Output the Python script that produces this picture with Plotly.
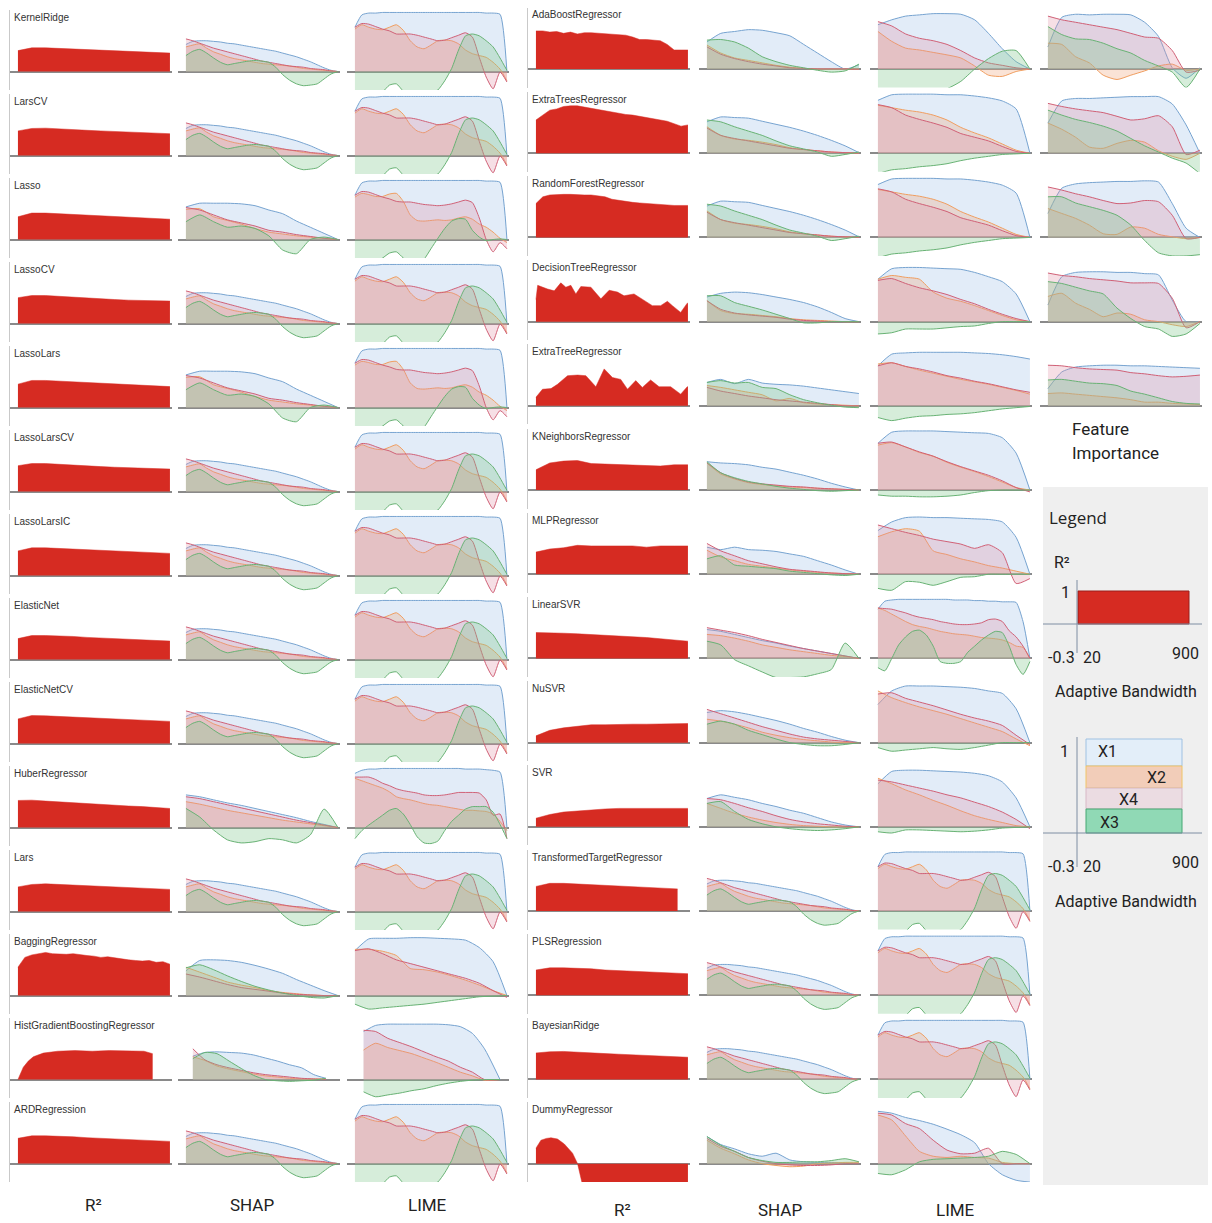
import plotly.graph_objects as go

W, H = 1212, 1223

# ---------------- bandwidth grids ----------------
BW12 = [20, 100, 180, 260, 340, 420, 500, 580, 660, 740, 820, 900]
BW23 = [20, 60, 100, 140, 180, 220, 260, 300, 340, 380, 420, 460, 500, 540, 580,
        620, 660, 700, 740, 780, 820, 860, 900]
HGB_R2_X = [20, 51, 80, 109, 167, 250, 350, 450, 550, 650, 750, 800]
HGB_SHAP_X = [60, 130, 200, 270, 340, 410, 480, 550, 620, 690, 760, 830]
HGB_LIME_X = [70, 140, 210, 280, 350, 420, 490, 560, 630, 700, 770, 860]
TTR_R2_X = [20, 100, 180, 260, 340, 420, 500, 580, 660, 740, 840]
DT_R2_X = [20, 30, 87, 126, 164, 193, 222, 251, 280, 338, 396, 444, 492, 530, 588,
           646, 694, 742, 781, 810, 858, 896, 900]
ET_R2_X = [20, 58, 107, 145, 203, 261, 309, 367, 415, 463, 511, 550, 598, 636, 684,
           733, 800, 858, 896, 900]
DUMMY_R2_X = [20, 49, 80, 107, 145, 184, 232, 261, 290, 400, 600, 900]

# ---------------- R2 series ----------------
R2_KERNELRIDGE = [0.34, 0.385, 0.385, 0.375, 0.365, 0.355, 0.345, 0.34, 0.33, 0.32, 0.31, 0.30]
R2_LARSCV = [0.40, 0.44, 0.445, 0.43, 0.42, 0.41, 0.40, 0.39, 0.38, 0.37, 0.36, 0.355]
R2_LASSO = [0.37, 0.43, 0.43, 0.42, 0.41, 0.40, 0.39, 0.38, 0.37, 0.36, 0.345, 0.33]
R2_LASSOCV = [0.42, 0.455, 0.455, 0.44, 0.43, 0.415, 0.40, 0.39, 0.38, 0.375, 0.37, 0.365]
R2_LASSOLARS = [0.38, 0.44, 0.44, 0.43, 0.42, 0.41, 0.40, 0.39, 0.375, 0.36, 0.35, 0.34]
R2_LASSOLARSCV = [0.42, 0.455, 0.455, 0.44, 0.43, 0.415, 0.405, 0.395, 0.385, 0.375, 0.37, 0.365]
R2_LASSOLARSIC = [0.40, 0.45, 0.45, 0.44, 0.42, 0.41, 0.40, 0.39, 0.385, 0.375, 0.37, 0.36]
R2_ELASTICNET = [0.34, 0.39, 0.39, 0.385, 0.375, 0.36, 0.35, 0.34, 0.33, 0.32, 0.31, 0.30]
R2_ELASTICNETCV = [0.40, 0.455, 0.45, 0.44, 0.43, 0.42, 0.40, 0.39, 0.38, 0.37, 0.365, 0.36]
R2_HUBER = [0.44, 0.445, 0.43, 0.415, 0.40, 0.39, 0.375, 0.365, 0.35, 0.34, 0.33, 0.31]
R2_LARS = [0.40, 0.44, 0.45, 0.44, 0.43, 0.42, 0.41, 0.40, 0.39, 0.38, 0.37, 0.36]
R2_BAGGING = [0.46, 0.62, 0.66, 0.68, 0.70, 0.68, 0.67, 0.67, 0.68, 0.66, 0.65, 0.64, 0.62,
              0.63, 0.61, 0.60, 0.58, 0.57, 0.56, 0.57, 0.54, 0.55, 0.51]
R2_HGB = [0.0, 0.2, 0.3, 0.37, 0.43, 0.46, 0.47, 0.46, 0.47, 0.47, 0.46, 0.42]
R2_ARD = [0.41, 0.45, 0.45, 0.445, 0.435, 0.42, 0.41, 0.40, 0.39, 0.38, 0.37, 0.36]

R2_ADABOOST = [0.62, 0.62, 0.60, 0.61, 0.58, 0.60, 0.57, 0.59, 0.59, 0.58, 0.58, 0.57, 0.56,
               0.55, 0.52, 0.48, 0.48, 0.47, 0.46, 0.40, 0.31, 0.31, 0.31]
R2_EXTRATREES = [0.54, 0.62, 0.70, 0.72, 0.76, 0.77, 0.77, 0.75, 0.73, 0.70, 0.68, 0.66, 0.65,
                 0.63, 0.62, 0.60, 0.58, 0.57, 0.54, 0.52, 0.48, 0.44, 0.46]
R2_RANDOMFOREST = [0.55, 0.66, 0.69, 0.70, 0.70, 0.70, 0.69, 0.69, 0.69, 0.68, 0.66, 0.62, 0.60,
                   0.58, 0.57, 0.56, 0.55, 0.54, 0.53, 0.53, 0.52, 0.52, 0.52]
R2_DECISIONTREE = [0.36, 0.59, 0.53, 0.50, 0.63, 0.56, 0.59, 0.45, 0.57, 0.56, 0.37, 0.51, 0.48,
                   0.42, 0.45, 0.34, 0.26, 0.26, 0.33, 0.26, 0.15, 0.30, 0.30]
R2_EXTRATREE = [0.14, 0.27, 0.28, 0.35, 0.49, 0.50, 0.49, 0.31, 0.60, 0.46, 0.43, 0.27, 0.41,
                0.30, 0.42, 0.31, 0.31, 0.19, 0.31, 0.31]
R2_KNEIGHBORS = [0.33, 0.44, 0.47, 0.48, 0.43, 0.42, 0.41, 0.40, 0.40, 0.39, 0.41, 0.41]
R2_MLP = [0.36, 0.41, 0.43, 0.47, 0.46, 0.46, 0.47, 0.46, 0.44, 0.46, 0.46, 0.46]
R2_LINEARSVR = [0.42, 0.42, 0.41, 0.40, 0.39, 0.38, 0.37, 0.35, 0.34, 0.32, 0.30, 0.28]
R2_NUSVR = [0.11, 0.20, 0.24, 0.27, 0.29, 0.29, 0.30, 0.30, 0.30, 0.30, 0.31, 0.31]
R2_SVR = [0.14, 0.20, 0.24, 0.26, 0.28, 0.29, 0.30, 0.30, 0.30, 0.30, 0.30, 0.30]
R2_TTR = [0.40, 0.45, 0.45, 0.44, 0.43, 0.42, 0.41, 0.40, 0.39, 0.38, 0.36]
R2_PLS = [0.41, 0.445, 0.445, 0.44, 0.43, 0.41, 0.40, 0.39, 0.38, 0.37, 0.36, 0.35]
R2_BAYESIANRIDGE = [0.43, 0.45, 0.455, 0.44, 0.43, 0.42, 0.41, 0.40, 0.39, 0.38, 0.37, 0.36]
R2_DUMMY = [0.25, 0.38, 0.41, 0.42, 0.40, 0.32, 0.17, 0.0, -0.35, -0.35, -0.35, -0.35]

# ---------------- SHAP / LIME / FI profiles (X1, X2, X4, X3) ----------------
SHAP_LIN_X1 = [0.44, 0.49, 0.5, 0.5, 0.49, 0.48, 0.46, 0.45, 0.43, 0.41, 0.39, 0.37, 0.35, 0.33,
               0.3, 0.27, 0.24, 0.2, 0.16, 0.11, 0.06, 0.02, 0.0]
SHAP_LIN_X2 = [0.4, 0.43, 0.45, 0.38, 0.32, 0.28, 0.24, 0.21, 0.19, 0.17, 0.15, 0.13, 0.12, 0.11,
               0.1, 0.09, 0.07, 0.05, 0.04, 0.03, 0.02, 0.01, 0.0]
SHAP_LIN_X4 = [0.53, 0.5, 0.46, 0.42, 0.38, 0.35, 0.32, 0.29, 0.26, 0.23, 0.2, 0.17, 0.15, 0.13,
               0.11, 0.09, 0.08, 0.07, 0.05, 0.04, 0.03, 0.01, 0.0]
SHAP_LIN_X3 = [0.26, 0.33, 0.36, 0.3, 0.22, 0.15, 0.11, 0.13, 0.15, 0.17, 0.18, 0.17, 0.15, 0.07,
               -0.05, -0.14, -0.2, -0.23, -0.22, -0.2, -0.12, -0.04, 0.0]

LIME_LIN_X1 = [0.72, 0.92, 0.95, 0.95, 0.96, 0.96, 0.96, 0.96, 0.96, 0.96, 0.96, 0.96, 0.96, 0.96,
               0.96, 0.96, 0.96, 0.96, 0.96, 0.95, 0.95, 0.93, 0.0]
LIME_LIN_X2 = [0.69, 0.76, 0.72, 0.69, 0.68, 0.72, 0.76, 0.67, 0.50, 0.40, 0.37, 0.43, 0.50, 0.51,
               0.50, 0.45, 0.35, 0.29, 0.26, 0.23, 0.15, 0.04, -0.15]
LIME_LIN_X4 = [0.72, 0.78, 0.77, 0.73, 0.69, 0.66, 0.61, 0.61, 0.61, 0.59, 0.56, 0.53, 0.50, 0.51,
               0.55, 0.59, 0.63, 0.56, 0.23, -0.09, -0.28, -0.01, -0.17]
LIME_LIN_X3 = [-0.5, -0.45, -0.4, -0.38, -0.33, -0.22, -0.2, -0.32, -0.4, -0.4, -0.35, -0.35, -0.3,
               -0.15, 0.05, 0.35, 0.58, 0.61, 0.58, 0.5, 0.4, 0.22, 0.02]

SHAP_LASSO_X1 = [0.53, 0.59, 0.59, 0.59, 0.58, 0.55, 0.48, 0.42, 0.30, 0.20, 0.10, 0.0]
SHAP_LASSO_X2 = [0.49, 0.50, 0.37, 0.31, 0.25, 0.18, 0.12, 0.09, 0.06, 0.04, 0.02, 0.0]
SHAP_LASSO_X4 = [0.52, 0.48, 0.40, 0.32, 0.27, 0.22, 0.15, 0.12, 0.08, 0.05, 0.02, 0.0]
SHAP_LASSO_X3 = [0.29, 0.40, 0.29, 0.20, 0.22, 0.18, 0.06, -0.17, -0.23, 0.0, 0.04, 0.0]

LIME_LASSO_X2 = [0.69, 0.75, 0.73, 0.70, 0.70, 0.74, 0.75, 0.62, 0.40, 0.31, 0.30, 0.31, 0.32,
                 0.31, 0.32, 0.35, 0.37, 0.33, 0.25, 0.20, 0.12, 0.02, -0.05]
LIME_LASSO_X4 = [0.72, 0.78, 0.77, 0.73, 0.69, 0.66, 0.62, 0.61, 0.61, 0.59, 0.57, 0.56, 0.55,
                 0.56, 0.58, 0.61, 0.64, 0.60, 0.35, 0.0, -0.2, -0.05, -0.15]
LIME_LASSO_X3 = [-0.5, -0.45, -0.4, -0.35, -0.3, -0.22, -0.2, -0.3, -0.38, -0.4, -0.32, -0.15,
                 0.02, 0.18, 0.3, 0.34, 0.33, 0.15, 0.04, -0.02, 0.0, 0.01, 0.0]

SHAP_HUBER_X1 = [0.53, 0.50, 0.45, 0.40, 0.36, 0.31, 0.26, 0.21, 0.16, 0.10, 0.05, 0.0]
SHAP_HUBER_X2 = [0.42, 0.38, 0.33, 0.28, 0.24, 0.20, 0.16, 0.12, 0.09, 0.06, 0.03, 0.0]
SHAP_HUBER_X4 = [0.50, 0.47, 0.42, 0.37, 0.32, 0.27, 0.22, 0.17, 0.12, 0.08, 0.04, 0.0]
SHAP_HUBER_X3 = [0.31, 0.17, -0.04, -0.20, -0.25, -0.23, -0.18, -0.2, -0.25, -0.12, 0.3, 0.0]

LIME_HUBER_X1 = [0.88, 0.93, 0.95, 0.95, 0.96, 0.96, 0.96, 0.96, 0.96, 0.96, 0.96, 0.96, 0.96,
                 0.96, 0.96, 0.96, 0.95, 0.95, 0.95, 0.94, 0.93, 0.9, 0.0]
LIME_HUBER_X2 = [0.80, 0.76, 0.72, 0.68, 0.64, 0.58, 0.50, 0.47, 0.45, 0.42, 0.39, 0.37, 0.36,
                 0.34, 0.32, 0.30, 0.28, 0.28, 0.27, 0.26, 0.22, 0.1, -0.05]
LIME_HUBER_X4 = [0.82, 0.82, 0.82, 0.78, 0.72, 0.68, 0.63, 0.60, 0.58, 0.56, 0.53, 0.52, 0.52,
                 0.53, 0.55, 0.57, 0.57, 0.57, 0.56, 0.45, 0.2, 0.22, -0.18]
LIME_HUBER_X3 = [-0.18, -0.05, 0.04, 0.12, 0.20, 0.28, 0.31, 0.22, 0.05, -0.15, -0.25, -0.26,
                 -0.22, -0.05, 0.1, 0.2, 0.3, 0.34, 0.34, 0.34, 0.25, 0.05, -0.18]

SHAP_BAG_X1 = [0.40, 0.57, 0.58, 0.57, 0.54, 0.49, 0.43, 0.36, 0.26, 0.17, 0.08, 0.0]
SHAP_BAG_X2 = [0.46, 0.38, 0.30, 0.22, 0.17, 0.13, 0.08, 0.05, 0.03, 0.01, 0.0, 0.0]
SHAP_BAG_X4 = [0.35, 0.30, 0.24, 0.18, 0.13, 0.10, 0.07, 0.04, 0.02, 0.01, 0.0, 0.0]
SHAP_BAG_X3 = [0.45, 0.50, 0.42, 0.32, 0.23, 0.15, 0.09, 0.04, 0.0, -0.03, -0.04, 0.0]
LIME_BAG_X1 = [0.73, 0.92, 0.93, 0.93, 0.94, 0.94, 0.93, 0.92, 0.90, 0.78, 0.55, 0.0]
LIME_BAG_X2 = [0.75, 0.75, 0.72, 0.65, 0.44, 0.42, 0.38, 0.32, 0.25, 0.17, 0.08, 0.0]
LIME_BAG_X4 = [0.73, 0.76, 0.68, 0.58, 0.52, 0.46, 0.40, 0.34, 0.28, 0.2, 0.08, -0.03]
LIME_BAG_X3 = [-0.14, -0.22, -0.20, -0.18, -0.16, -0.14, -0.11, -0.08, -0.05, -0.02, -0.01, 0.0]

SHAP_HGB_X1 = [0.38, 0.44, 0.45, 0.44, 0.43, 0.40, 0.35, 0.30, 0.24, 0.19, 0.08, 0.02]
SHAP_HGB_X2 = [0.37, 0.31, 0.22, 0.17, 0.13, 0.09, 0.06, 0.04, 0.02, 0.01, 0.01, 0.01]
SHAP_HGB_X4 = [0.50, 0.32, 0.24, 0.19, 0.15, 0.11, 0.08, 0.06, 0.04, 0.02, 0.01, 0.0]
SHAP_HGB_X3 = [0.34, 0.44, 0.42, 0.30, 0.18, 0.07, 0.0, -0.02, -0.03, -0.02, -0.01, 0.02]
LIME_HGB_X1 = [0.78, 0.88, 0.90, 0.90, 0.90, 0.90, 0.90, 0.89, 0.86, 0.75, 0.5, 0.0]
LIME_HGB_X2 = [0.48, 0.59, 0.52, 0.47, 0.42, 0.35, 0.28, 0.2, 0.12, 0.06, -0.01, 0.0]
LIME_HGB_X4 = [0.80, 0.78, 0.67, 0.60, 0.53, 0.45, 0.37, 0.3, 0.2, 0.12, 0.0, 0.0]
LIME_HGB_X3 = [-0.2, -0.28, -0.25, -0.22, -0.18, -0.15, -0.1, -0.06, -0.03, -0.01, 0.0, 0.0]

SHAP_ADA_X1 = [0.44, 0.58, 0.61, 0.64, 0.63, 0.59, 0.54, 0.40, 0.26, 0.12, 0.0, 0.07]
SHAP_ADA_X2 = [0.39, 0.26, 0.18, 0.14, 0.10, 0.06, 0.03, 0.01, 0.0, 0.0, 0.0, 0.0]
SHAP_ADA_X4 = [0.36, 0.24, 0.17, 0.12, 0.08, 0.05, 0.02, 0.01, 0.0, 0.0, 0.0, 0.0]
SHAP_ADA_X3 = [0.47, 0.48, 0.44, 0.34, 0.2, 0.12, 0.06, 0.02, -0.02, -0.05, -0.03, 0.08]
LIME_ADA_X1 = [0.72, 0.80, 0.86, 0.88, 0.90, 0.90, 0.89, 0.80, 0.58, 0.33, 0.12, 0.0]
LIME_ADA_X2 = [0.61, 0.45, 0.34, 0.31, 0.27, 0.23, 0.18, 0.05, -0.1, -0.12, -0.04, 0.0]
LIME_ADA_X4 = [0.77, 0.70, 0.57, 0.50, 0.46, 0.40, 0.30, 0.18, 0.10, 0.06, 0.02, 0.0]
LIME_ADA_X3 = [-0.45, -0.45, -0.45, -0.42, -0.38, -0.32, -0.2, 0.0, 0.17, 0.29, 0.3, 0.0]
FI_ADA_X1 = [0.36, 0.84, 0.89, 0.88, 0.89, 0.89, 0.88, 0.76, 0.53, 0.02, -0.15, 0.02]
FI_ADA_X2 = [0.42, 0.40, 0.20, 0.10, -0.10, -0.17, -0.10, -0.03, 0.05, 0.08, -0.02, 0.0]
FI_ADA_X4 = [0.86, 0.80, 0.76, 0.72, 0.68, 0.64, 0.58, 0.52, 0.50, 0.30, -0.05, -0.02]
FI_ADA_X3 = [0.69, 0.56, 0.49, 0.48, 0.42, 0.33, 0.26, 0.14, 0.05, -0.05, -0.3, 0.0]

SHAP_ETS_X1 = [0.51, 0.59, 0.58, 0.57, 0.52, 0.47, 0.42, 0.36, 0.29, 0.21, 0.12, 0.01]
SHAP_ETS_X2 = [0.43, 0.29, 0.23, 0.21, 0.18, 0.14, 0.09, 0.06, 0.04, 0.02, 0.01, 0.0]
SHAP_ETS_X4 = [0.41, 0.29, 0.24, 0.20, 0.16, 0.12, 0.08, 0.06, 0.04, 0.02, 0.01, 0.0]
SHAP_ETS_X3 = [0.54, 0.51, 0.43, 0.36, 0.29, 0.20, 0.12, 0.07, 0.02, -0.05, -0.02, 0.02]
LIME_ETS_X1 = [0.86, 0.95, 0.96, 0.96, 0.96, 0.95, 0.95, 0.93, 0.90, 0.85, 0.72, 0.0]
LIME_ETS_X2 = [0.78, 0.74, 0.70, 0.67, 0.62, 0.54, 0.42, 0.33, 0.25, 0.15, 0.05, 0.0]
LIME_ETS_X4 = [0.79, 0.74, 0.62, 0.55, 0.49, 0.42, 0.32, 0.26, 0.2, 0.11, 0.03, 0.0]
LIME_ETS_X3 = [-0.33, -0.27, -0.25, -0.22, -0.2, -0.17, -0.12, -0.08, -0.05, -0.02, -0.01, 0.0]
FI_ETS_X1 = [0.49, 0.85, 0.89, 0.89, 0.90, 0.91, 0.92, 0.92, 0.92, 0.80, 0.46, 0.0]
FI_ETS_X2 = [0.49, 0.39, 0.26, 0.10, 0.08, 0.16, 0.21, 0.18, 0.04, -0.05, -0.1, 0.0]
FI_ETS_X4 = [0.81, 0.76, 0.72, 0.69, 0.66, 0.60, 0.54, 0.56, 0.61, 0.43, -0.02, 0.05]
FI_ETS_X3 = [0.70, 0.62, 0.55, 0.50, 0.44, 0.36, 0.24, 0.12, 0.02, -0.08, -0.16, -0.33]

FI_RF_X1 = [0.39, 0.80, 0.87, 0.89, 0.90, 0.91, 0.91, 0.92, 0.90, 0.55, 0.15, 0.0]
FI_RF_X2 = [0.47, 0.39, 0.31, 0.20, 0.06, 0.05, 0.17, 0.15, 0.05, 0.01, -0.02, 0.0]
FI_RF_X4 = [0.82, 0.77, 0.71, 0.66, 0.60, 0.55, 0.56, 0.60, 0.58, 0.36, -0.02, 0.0]
FI_RF_X3 = [0.66, 0.66, 0.56, 0.50, 0.44, 0.36, 0.2, -0.05, -0.25, -0.3, -0.3, -0.28]

SHAP_DT_X1 = [0.40, 0.46, 0.48, 0.47, 0.44, 0.40, 0.36, 0.31, 0.24, 0.15, 0.05, 0.0]
SHAP_DT_X2 = [0.34, 0.18, 0.13, 0.12, 0.10, 0.08, 0.05, 0.03, 0.02, 0.01, 0.0, 0.0]
SHAP_DT_X4 = [0.34, 0.20, 0.14, 0.11, 0.09, 0.07, 0.04, 0.02, 0.01, 0.0, 0.0, 0.0]
SHAP_DT_X3 = [0.42, 0.42, 0.31, 0.25, 0.19, 0.12, 0.05, -0.02, -0.02, 0.0, 0.0, 0.0]
LIME_DT_X1 = [0.69, 0.86, 0.88, 0.88, 0.87, 0.86, 0.85, 0.80, 0.73, 0.65, 0.45, 0.0]
LIME_DT_X2 = [0.69, 0.75, 0.72, 0.69, 0.48, 0.38, 0.33, 0.26, 0.18, 0.10, 0.03, 0.0]
LIME_DT_X4 = [0.67, 0.70, 0.62, 0.55, 0.50, 0.44, 0.36, 0.29, 0.20, 0.12, 0.05, 0.0]
LIME_DT_X3 = [-0.2, -0.18, -0.12, -0.12, -0.12, -0.1, -0.08, -0.07, -0.03, 0.0, 0.0, 0.0]
FI_DT_X1 = [0.27, 0.73, 0.80, 0.81, 0.81, 0.80, 0.80, 0.78, 0.76, 0.35, 0.0, 0.0]
FI_DT_X2 = [0.41, 0.46, 0.30, 0.20, 0.08, 0.14, 0.12, 0.03, 0.0, -0.05, -0.08, 0.0]
FI_DT_X4 = [0.79, 0.75, 0.73, 0.70, 0.68, 0.66, 0.63, 0.63, 0.62, 0.38, -0.1, 0.0]
FI_DT_X3 = [0.65, 0.62, 0.56, 0.50, 0.45, 0.22, 0.05, -0.08, -0.12, -0.24, -0.2, -0.03]

SHAP_ET_X1 = [0.38, 0.43, 0.36, 0.43, 0.37, 0.35, 0.34, 0.32, 0.29, 0.26, 0.23, 0.20]
SHAP_ET_X2 = [0.33, 0.30, 0.26, 0.22, 0.18, 0.08, 0.12, 0.05, 0.03, 0.02, 0.01, 0.0]
SHAP_ET_X4 = [0.30, 0.24, 0.20, 0.16, 0.13, 0.10, 0.08, 0.06, 0.04, 0.02, 0.0, 0.0]
SHAP_ET_X3 = [0.38, 0.41, 0.37, 0.38, 0.30, 0.28, 0.18, 0.10, 0.05, 0.01, -0.02, -0.03]
LIME_ET_X1 = [0.65, 0.84, 0.86, 0.87, 0.87, 0.87, 0.87, 0.86, 0.85, 0.83, 0.80, 0.76]
LIME_ET_X2 = [0.68, 0.70, 0.64, 0.58, 0.53, 0.48, 0.43, 0.39, 0.35, 0.30, 0.25, 0.19]
LIME_ET_X4 = [0.65, 0.70, 0.64, 0.60, 0.55, 0.49, 0.45, 0.40, 0.36, 0.31, 0.26, 0.22]
LIME_ET_X3 = [-0.19, -0.24, -0.2, -0.17, -0.16, -0.14, -0.13, -0.11, -0.08, -0.05, -0.03, -0.01]
FI_ET_X1 = [0.28, 0.55, 0.63, 0.65, 0.66, 0.66, 0.65, 0.65, 0.64, 0.63, 0.62, 0.61]
FI_ET_X2 = [0.20, 0.21, 0.19, 0.17, 0.15, 0.13, 0.10, 0.06, 0.06, 0.04, 0.03, 0.02]
FI_ET_X4 = [0.66, 0.65, 0.62, 0.60, 0.59, 0.58, 0.54, 0.52, 0.49, 0.47, 0.48, 0.50]
FI_ET_X3 = [0.42, 0.43, 0.40, 0.37, 0.36, 0.33, 0.24, 0.19, 0.13, 0.07, 0.04, 0.03]

SHAP_KNN_X1 = [0.46, 0.44, 0.43, 0.41, 0.37, 0.34, 0.29, 0.24, 0.18, 0.11, 0.05, 0.0]
SHAP_KNN_X2 = [0.44, 0.26, 0.18, 0.12, 0.09, 0.07, 0.05, 0.04, 0.03, 0.02, 0.01, 0.0]
SHAP_KNN_X4 = [0.44, 0.28, 0.19, 0.13, 0.10, 0.08, 0.06, 0.05, 0.03, 0.02, 0.01, 0.0]
SHAP_KNN_X3 = [0.46, 0.28, 0.20, 0.14, 0.10, 0.06, 0.03, 0.01, -0.01, -0.02, -0.01, 0.0]
LIME_KNN_X1 = [0.76, 0.94, 0.96, 0.96, 0.96, 0.95, 0.94, 0.93, 0.92, 0.85, 0.6, 0.0]
LIME_KNN_X2 = [0.73, 0.77, 0.70, 0.61, 0.55, 0.45, 0.37, 0.30, 0.22, 0.13, 0.04, 0.0]
LIME_KNN_X4 = [0.76, 0.78, 0.70, 0.62, 0.55, 0.46, 0.38, 0.31, 0.24, 0.15, 0.04, -0.03]
LIME_KNN_X3 = [-0.08, -0.1, -0.1, -0.11, -0.11, -0.1, -0.08, -0.04, -0.01, 0.0, 0.0, 0.0]

SHAP_MLP_X1 = [0.44, 0.40, 0.44, 0.40, 0.39, 0.37, 0.33, 0.29, 0.22, 0.15, 0.07, 0.0]
SHAP_MLP_X2 = [0.39, 0.28, 0.22, 0.16, 0.13, 0.10, 0.07, 0.05, 0.03, 0.02, 0.01, 0.0]
SHAP_MLP_X4 = [0.50, 0.38, 0.30, 0.22, 0.17, 0.12, 0.08, 0.06, 0.04, 0.02, 0.01, 0.0]
SHAP_MLP_X3 = [0.25, 0.30, 0.15, 0.13, 0.11, 0.09, 0.05, 0.03, 0.01, -0.01, -0.02, 0.0]
LIME_MLP_X1 = [0.71, 0.85, 0.92, 0.93, 0.92, 0.92, 0.91, 0.90, 0.89, 0.85, 0.6, 0.0]
LIME_MLP_X2 = [0.61, 0.69, 0.74, 0.70, 0.38, 0.32, 0.25, 0.2, 0.14, 0.1, 0.05, 0.0]
LIME_MLP_X4 = [0.80, 0.74, 0.68, 0.63, 0.57, 0.53, 0.49, 0.42, 0.48, 0.35, -0.15, -0.07]
LIME_MLP_X3 = [-0.23, -0.26, -0.12, -0.13, -0.18, -0.12, -0.05, -0.04, 0.0, 0.0, 0.0, 0.0]

SHAP_LSVR_X1 = [0.47, 0.44, 0.39, 0.34, 0.29, 0.25, 0.20, 0.16, 0.12, 0.08, 0.04, 0.0]
SHAP_LSVR_X2 = [0.39, 0.37, 0.33, 0.28, 0.22, 0.18, 0.14, 0.11, 0.08, 0.05, 0.03, 0.0]
SHAP_LSVR_X4 = [0.50, 0.46, 0.42, 0.37, 0.31, 0.26, 0.21, 0.16, 0.12, 0.08, 0.04, 0.0]
SHAP_LSVR_X3 = [0.28, 0.22, -0.02, -0.12, -0.22, -0.31, -0.31, -0.3, -0.25, -0.18, 0.25, 0.0]
LIME_LSVR_X1 = [0.8, 0.93, 0.95, 0.96, 0.96, 0.96, 0.96, 0.96, 0.96, 0.96, 0.96, 0.95, 0.95,
                0.95, 0.94, 0.94, 0.93, 0.93, 0.92, 0.92, 0.91, 0.6, 0.0]
LIME_LSVR_X2 = [0.82, 0.78, 0.72, 0.66, 0.6, 0.55, 0.52, 0.5, 0.47, 0.44, 0.42, 0.4, 0.39,
                0.38, 0.36, 0.34, 0.33, 0.32, 0.30, 0.26, 0.2, 0.18, 0.0]
LIME_LSVR_X4 = [0.82, 0.81, 0.80, 0.77, 0.74, 0.70, 0.67, 0.65, 0.63, 0.60, 0.58, 0.56, 0.55,
                0.55, 0.56, 0.58, 0.63, 0.64, 0.6, 0.45, 0.35, 0.2, 0.0]
LIME_LSVR_X3 = [-0.15, -0.2, 0.0, 0.22, 0.35, 0.44, 0.46, 0.38, 0.2, -0.05, -0.08, -0.08, -0.05,
                0.1, 0.2, 0.3, 0.38, 0.44, 0.42, 0.2, -0.1, -0.26, -0.05]

SHAP_NUSVR_X1 = [0.49, 0.52, 0.50, 0.46, 0.41, 0.36, 0.30, 0.23, 0.17, 0.10, 0.04, 0.0]
SHAP_NUSVR_X2 = [0.38, 0.35, 0.30, 0.24, 0.17, 0.12, 0.08, 0.05, 0.03, 0.01, 0.0, 0.0]
SHAP_NUSVR_X4 = [0.54, 0.47, 0.40, 0.33, 0.26, 0.20, 0.14, 0.09, 0.06, 0.04, 0.02, 0.0]
SHAP_NUSVR_X3 = [0.30, 0.35, 0.30, 0.20, 0.13, 0.06, 0.0, -0.03, -0.05, -0.05, -0.03, 0.0]
LIME_NUSVR_X1 = [0.62, 0.84, 0.92, 0.92, 0.92, 0.91, 0.90, 0.88, 0.84, 0.8, 0.55, 0.0]
LIME_NUSVR_X2 = [0.84, 0.73, 0.65, 0.58, 0.52, 0.46, 0.39, 0.32, 0.25, 0.18, 0.06, -0.05]
LIME_NUSVR_X4 = [0.79, 0.81, 0.72, 0.66, 0.60, 0.53, 0.46, 0.40, 0.35, 0.28, 0.12, -0.03]
LIME_NUSVR_X3 = [-0.08, -0.14, -0.12, -0.1, -0.08, -0.1, -0.11, -0.08, -0.04, 0.0, 0.0, 0.0]

SHAP_SVR_X1 = [0.46, 0.52, 0.48, 0.44, 0.38, 0.33, 0.27, 0.22, 0.15, 0.08, 0.03, 0.0]
SHAP_SVR_X2 = [0.38, 0.30, 0.22, 0.16, 0.11, 0.07, 0.04, 0.02, 0.01, 0.0, 0.0, 0.0]
SHAP_SVR_X4 = [0.46, 0.44, 0.38, 0.31, 0.25, 0.18, 0.12, 0.08, 0.05, 0.03, 0.01, 0.0]
SHAP_SVR_X3 = [0.38, 0.41, 0.25, 0.12, 0.05, 0.0, -0.03, -0.05, -0.06, -0.05, -0.03, 0.0]
LIME_SVR_X1 = [0.70, 0.90, 0.92, 0.92, 0.91, 0.90, 0.89, 0.87, 0.83, 0.73, 0.47, 0.0]
LIME_SVR_X2 = [0.79, 0.70, 0.60, 0.52, 0.43, 0.35, 0.26, 0.18, 0.12, 0.07, 0.02, 0.0]
LIME_SVR_X4 = [0.76, 0.73, 0.68, 0.63, 0.58, 0.52, 0.47, 0.40, 0.33, 0.24, 0.12, -0.03]
LIME_SVR_X3 = [-0.08, -0.1, -0.05, -0.05, -0.06, -0.07, -0.08, -0.07, -0.05, -0.02, -0.01, 0.0]

SHAP_DUMMY_X1 = [0.44, 0.31, 0.24, 0.16, 0.12, 0.17, 0.06, 0.03, 0.02, 0.02, 0.01, 0.0]
SHAP_DUMMY_X2 = [0.38, 0.25, 0.16, 0.06, 0.0, -0.03, -0.05, -0.04, 0.0, 0.01, 0.02, 0.02]
SHAP_DUMMY_X4 = [0.41, 0.28, 0.20, 0.10, 0.04, 0.0, -0.02, -0.03, -0.03, -0.02, 0.0, 0.0]
SHAP_DUMMY_X3 = [0.44, 0.30, 0.20, 0.10, 0.05, 0.02, 0.02, 0.03, 0.03, 0.05, 0.08, 0.03]
LIME_DUMMY_X1 = [0.85, 0.82, 0.75, 0.70, 0.64, 0.56, 0.47, 0.34, 0.0, -0.18, -0.27, -0.3]
LIME_DUMMY_X2 = [0.79, 0.71, 0.45, 0.20, 0.12, 0.10, 0.12, 0.10, 0.09, 0.02, 0.0, 0.0]
LIME_DUMMY_X4 = [0.82, 0.79, 0.65, 0.57, 0.38, 0.22, 0.16, 0.17, 0.25, 0.0, 0.0, 0.0]
LIME_DUMMY_X3 = [-0.16, -0.18, -0.10, 0.03, 0.07, 0.08, 0.09, 0.10, 0.12, 0.20, 0.15, 0.0]

# ---------------- assemble profiles ----------------
def prof(x, x1, x2, x4, x3):
    for s in (x1, x2, x4, x3):
        assert len(s) == len(x), (len(s), len(x))
    return (x, x1, x2, x4, x3)

SHAP_LIN = prof(BW23, SHAP_LIN_X1, SHAP_LIN_X2, SHAP_LIN_X4, SHAP_LIN_X3)
LIME_LIN = prof(BW23, LIME_LIN_X1, LIME_LIN_X2, LIME_LIN_X4, LIME_LIN_X3)
SHAP_LASSO = prof(BW12, SHAP_LASSO_X1, SHAP_LASSO_X2, SHAP_LASSO_X4, SHAP_LASSO_X3)
LIME_LASSO = prof(BW23, LIME_LIN_X1, LIME_LASSO_X2, LIME_LASSO_X4, LIME_LASSO_X3)
SHAP_HUBER = prof(BW12, SHAP_HUBER_X1, SHAP_HUBER_X2, SHAP_HUBER_X4, SHAP_HUBER_X3)
LIME_HUBER = prof(BW23, LIME_HUBER_X1, LIME_HUBER_X2, LIME_HUBER_X4, LIME_HUBER_X3)
SHAP_BAG = prof(BW12, SHAP_BAG_X1, SHAP_BAG_X2, SHAP_BAG_X4, SHAP_BAG_X3)
LIME_BAG = prof(BW12, LIME_BAG_X1, LIME_BAG_X2, LIME_BAG_X4, LIME_BAG_X3)
SHAP_HGB = prof(HGB_SHAP_X, SHAP_HGB_X1, SHAP_HGB_X2, SHAP_HGB_X4, SHAP_HGB_X3)
LIME_HGB = prof(HGB_LIME_X, LIME_HGB_X1, LIME_HGB_X2, LIME_HGB_X4, LIME_HGB_X3)
SHAP_ADA = prof(BW12, SHAP_ADA_X1, SHAP_ADA_X2, SHAP_ADA_X4, SHAP_ADA_X3)
LIME_ADA = prof(BW12, LIME_ADA_X1, LIME_ADA_X2, LIME_ADA_X4, LIME_ADA_X3)
FI_ADA = prof(BW12, FI_ADA_X1, FI_ADA_X2, FI_ADA_X4, FI_ADA_X3)
SHAP_ETS = prof(BW12, SHAP_ETS_X1, SHAP_ETS_X2, SHAP_ETS_X4, SHAP_ETS_X3)
LIME_ETS = prof(BW12, LIME_ETS_X1, LIME_ETS_X2, LIME_ETS_X4, LIME_ETS_X3)
FI_ETS = prof(BW12, FI_ETS_X1, FI_ETS_X2, FI_ETS_X4, FI_ETS_X3)
FI_RF = prof(BW12, FI_RF_X1, FI_RF_X2, FI_RF_X4, FI_RF_X3)
SHAP_DT = prof(BW12, SHAP_DT_X1, SHAP_DT_X2, SHAP_DT_X4, SHAP_DT_X3)
LIME_DT = prof(BW12, LIME_DT_X1, LIME_DT_X2, LIME_DT_X4, LIME_DT_X3)
FI_DT = prof(BW12, FI_DT_X1, FI_DT_X2, FI_DT_X4, FI_DT_X3)
SHAP_ET = prof(BW12, SHAP_ET_X1, SHAP_ET_X2, SHAP_ET_X4, SHAP_ET_X3)
LIME_ET = prof(BW12, LIME_ET_X1, LIME_ET_X2, LIME_ET_X4, LIME_ET_X3)
FI_ET = prof(BW12, FI_ET_X1, FI_ET_X2, FI_ET_X4, FI_ET_X3)
SHAP_KNN = prof(BW12, SHAP_KNN_X1, SHAP_KNN_X2, SHAP_KNN_X4, SHAP_KNN_X3)
LIME_KNN = prof(BW12, LIME_KNN_X1, LIME_KNN_X2, LIME_KNN_X4, LIME_KNN_X3)
SHAP_MLP = prof(BW12, SHAP_MLP_X1, SHAP_MLP_X2, SHAP_MLP_X4, SHAP_MLP_X3)
LIME_MLP = prof(BW12, LIME_MLP_X1, LIME_MLP_X2, LIME_MLP_X4, LIME_MLP_X3)
SHAP_LSVR = prof(BW12, SHAP_LSVR_X1, SHAP_LSVR_X2, SHAP_LSVR_X4, SHAP_LSVR_X3)
LIME_LSVR = prof(BW23, LIME_LSVR_X1, LIME_LSVR_X2, LIME_LSVR_X4, LIME_LSVR_X3)
SHAP_NUSVR = prof(BW12, SHAP_NUSVR_X1, SHAP_NUSVR_X2, SHAP_NUSVR_X4, SHAP_NUSVR_X3)
LIME_NUSVR = prof(BW12, LIME_NUSVR_X1, LIME_NUSVR_X2, LIME_NUSVR_X4, LIME_NUSVR_X3)
SHAP_SVR = prof(BW12, SHAP_SVR_X1, SHAP_SVR_X2, SHAP_SVR_X4, SHAP_SVR_X3)
LIME_SVR = prof(BW12, LIME_SVR_X1, LIME_SVR_X2, LIME_SVR_X4, LIME_SVR_X3)
SHAP_DUMMY = prof(BW12, SHAP_DUMMY_X1, SHAP_DUMMY_X2, SHAP_DUMMY_X4, SHAP_DUMMY_X3)
LIME_DUMMY = prof(BW12, LIME_DUMMY_X1, LIME_DUMMY_X2, LIME_DUMMY_X4, LIME_DUMMY_X3)

LEFT_MODELS = [
    ("KernelRidge", BW12, R2_KERNELRIDGE, SHAP_LIN, LIME_LIN),
    ("LarsCV", BW12, R2_LARSCV, SHAP_LIN, LIME_LIN),
    ("Lasso", BW12, R2_LASSO, SHAP_LASSO, LIME_LASSO),
    ("LassoCV", BW12, R2_LASSOCV, SHAP_LIN, LIME_LIN),
    ("LassoLars", BW12, R2_LASSOLARS, SHAP_LASSO, LIME_LASSO),
    ("LassoLarsCV", BW12, R2_LASSOLARSCV, SHAP_LIN, LIME_LIN),
    ("LassoLarsIC", BW12, R2_LASSOLARSIC, SHAP_LIN, LIME_LIN),
    ("ElasticNet", BW12, R2_ELASTICNET, SHAP_LIN, LIME_LIN),
    ("ElasticNetCV", BW12, R2_ELASTICNETCV, SHAP_LIN, LIME_LIN),
    ("HuberRegressor", BW12, R2_HUBER, SHAP_HUBER, LIME_HUBER),
    ("Lars", BW12, R2_LARS, SHAP_LIN, LIME_LIN),
    ("BaggingRegressor", BW23, R2_BAGGING, SHAP_BAG, LIME_BAG),
    ("HistGradientBoostingRegressor", HGB_R2_X, R2_HGB, SHAP_HGB, LIME_HGB),
    ("ARDRegression", BW12, R2_ARD, SHAP_LIN, LIME_LIN),
]
RIGHT_MODELS = [
    ("AdaBoostRegressor", BW23, R2_ADABOOST, SHAP_ADA, LIME_ADA, FI_ADA),
    ("ExtraTreesRegressor", BW23, R2_EXTRATREES, SHAP_ETS, LIME_ETS, FI_ETS),
    ("RandomForestRegressor", BW23, R2_RANDOMFOREST, SHAP_ETS, LIME_ETS, FI_RF),
    ("DecisionTreeRegressor", DT_R2_X, R2_DECISIONTREE, SHAP_DT, LIME_DT, FI_DT),
    ("ExtraTreeRegressor", ET_R2_X, R2_EXTRATREE, SHAP_ET, LIME_ET, FI_ET),
    ("KNeighborsRegressor", BW12, R2_KNEIGHBORS, SHAP_KNN, LIME_KNN, None),
    ("MLPRegressor", BW12, R2_MLP, SHAP_MLP, LIME_MLP, None),
    ("LinearSVR", BW12, R2_LINEARSVR, SHAP_LSVR, LIME_LSVR, None),
    ("NuSVR", BW12, R2_NUSVR, SHAP_NUSVR, LIME_NUSVR, None),
    ("SVR", BW12, R2_SVR, SHAP_SVR, LIME_SVR, None),
    ("TransformedTargetRegressor", TTR_R2_X, R2_TTR, SHAP_LIN, LIME_LIN, None),
    ("PLSRegression", BW12, R2_PLS, SHAP_LIN, LIME_LIN, None),
    ("BayesianRidge", BW12, R2_BAYESIANRIDGE, SHAP_LIN, LIME_LIN, None),
    ("DummyRegressor", DUMMY_R2_X, R2_DUMMY, SHAP_DUMMY, LIME_DUMMY, None),
]

# ---------------- styling ----------------
RED = "#d62b22"
FEAT_STYLE = [  # X1, X2, X4, X3
    ("rgb(118,163,208)", "rgba(178,206,236,0.38)"),
    ("rgb(240,158,96)", "rgba(238,168,128,0.32)"),
    ("rgb(208,96,118)", "rgba(222,140,160,0.28)"),
    ("rgb(104,178,116)", "rgba(128,198,140,0.32)"),
]
XR = [-26, 912]
YR = [-0.3, 1.0]
LEFT_CELLS = [(10, 172), (178, 340), (347, 509)]
RIGHT_CELLS = [(528, 690), (699, 861), (870, 1032), (1040, 1202)]

fig = go.Figure()
layout = {}
annotations = []
shapes = []
counter = [0]


def new_axes(x0, x1, yb, vline=False):
    counter[0] += 1
    n = counter[0]
    sfx = "" if n == 1 else str(n)
    layout["xaxis" + sfx] = dict(domain=[x0 / W, x1 / W], range=XR, visible=False,
                                 anchor="y" + sfx, fixedrange=True)
    layout["yaxis" + sfx] = dict(domain=[1 - (yb + 18.5) / H, 1 - (yb - 61.5) / H],
                                 range=YR, anchor="x" + sfx, showgrid=False,
                                 zeroline=True, zerolinecolor="#8a8a8a", zerolinewidth=1.6,
                                 showticklabels=False, ticks="", showline=vline,
                                 linecolor="#c9c9c9", linewidth=1, fixedrange=True)
    return "x" + sfx, "y" + sfx


def add_r2(x0, x1, yb, xs, ys):
    assert len(xs) == len(ys)
    xa, ya = new_axes(x0, x1, yb, vline=True)
    fig.add_trace(go.Scatter(x=xs, y=ys, xaxis=xa, yaxis=ya, mode="lines", fill="tozeroy",
                             fillcolor=RED, line=dict(color=RED, width=0.5),
                             hoverinfo="skip", showlegend=False))


def add_feat(x0, x1, yb, p):
    xa, ya = new_axes(x0, x1, yb)
    xs = p[0]
    for (lc, fc), ys in zip(FEAT_STYLE, p[1:]):
        fig.add_trace(go.Scatter(x=xs, y=ys, xaxis=xa, yaxis=ya, mode="lines",
                                 fill="tozeroy", fillcolor=fc,
                                 line=dict(color=lc, width=1, shape="spline", smoothing=0.6),
                                 hoverinfo="skip", showlegend=False))


LABEL_FONT = dict(family="Liberation Sans, Arial", size=10, color="#333333")

for k, (name, rx, ry, shap, lime) in enumerate(LEFT_MODELS):
    yb = 71.5 + 84 * k
    add_r2(*LEFT_CELLS[0], yb, rx, ry)
    add_feat(*LEFT_CELLS[1], yb, shap)
    add_feat(*LEFT_CELLS[2], yb, lime)
    annotations.append(dict(text=name, x=12 / W, y=1 - (yb - 54) / H, xref="paper",
                            yref="paper", xanchor="left", yanchor="middle",
                            showarrow=False, font=LABEL_FONT))

for k, (name, rx, ry, shap, lime, fi) in enumerate(RIGHT_MODELS):
    yb = 69 + 84.2 * k
    add_r2(*RIGHT_CELLS[0], yb, rx, ry)
    add_feat(*RIGHT_CELLS[1], yb, shap)
    add_feat(*RIGHT_CELLS[2], yb, lime)
    if fi is not None:
        add_feat(*RIGHT_CELLS[3], yb, fi)
    annotations.append(dict(text=name, x=530 / W, y=1 - (yb - 54) / H, xref="paper",
                            yref="paper", xanchor="left", yanchor="middle",
                            showarrow=False, font=LABEL_FONT))


def txt(s, px, py, size=17, anchor="center", family="Roboto", color="#222"):
    annotations.append(dict(text=s, x=px / W, y=1 - py / H, xref="paper", yref="paper",
                            xanchor=anchor, yanchor="middle", showarrow=False,
                            font=dict(family=family, size=size, color=color)))


# column titles
for s, px, py in [("R²", 93, 1205), ("SHAP", 252, 1205), ("LIME", 427, 1205),
                  ("R²", 622, 1210), ("SHAP", 780, 1210), ("LIME", 955, 1210)]:
    txt(s, px, py, size=17)
txt("Feature", 1070, 429, size=17, anchor="left")
txt("Importance", 1070, 453, size=17, anchor="left")


def rect_px(x0, y0, x1, y1, fill, line="rgba(0,0,0,0)", lw=0, layer="below"):
    shapes.append(dict(type="rect", xref="paper", yref="paper", x0=x0 / W, x1=x1 / W,
                       y0=1 - y1 / H, y1=1 - y0 / H, fillcolor=fill,
                       line=dict(color=line, width=lw), layer=layer))


def line_px(x0, y0, x1, y1, color="#7f8ea3", lw=1):
    shapes.append(dict(type="line", xref="paper", yref="paper", x0=x0 / W, x1=x1 / W,
                       y0=1 - y0 / H, y1=1 - y1 / H, line=dict(color=color, width=lw),
                       layer="above"))


# legend panel
rect_px(1043, 487, 1208, 1185, "#efefef")
txt("Legend", 1047, 517, size=17, anchor="left", family="Open Sans")
txt("R²", 1052, 562, size=16, anchor="left")
rect_px(1078, 591, 1189, 624, RED, line="#9a1f1a", lw=1, layer="above")
line_px(1077, 580, 1077, 653)
line_px(1043, 624, 1202, 624)
txt("1", 1072, 592, size=16, anchor="right")
txt("-0.3", 1061, 657, size=16)
txt("20", 1092, 657, size=16)
txt("900", 1185, 653, size=16)
txt("Adaptive Bandwidth", 1126, 691, size=16)

rect_px(1086, 739, 1182, 766, "#e3eef9", line="#9fc1e2", lw=1, layer="above")
rect_px(1086, 766, 1182, 788, "#f2cdb9", line="#f0c466", lw=1, layer="above")
rect_px(1086, 788, 1182, 809, "#ebdce2", line="#d7b8c5", lw=1, layer="above")
rect_px(1086, 809, 1182, 833, "#90d9b5", line="#44a872", lw=1, layer="above")
line_px(1077, 737, 1077, 867)
line_px(1043, 833, 1202, 833)
txt("1", 1071, 751, size=16, anchor="right")
txt("X1", 1107, 751, size=16)
txt("X2", 1156, 777, size=16)
txt("X4", 1128, 799, size=16)
txt("X3", 1109, 822, size=16)
txt("-0.3", 1061, 866, size=16)
txt("20", 1092, 866, size=16)
txt("900", 1185, 862, size=16)
txt("Adaptive Bandwidth", 1126, 901, size=16)

fig.update_layout(**layout)
fig.update_layout(width=W, height=H, margin=dict(l=0, r=0, t=0, b=0),
                  paper_bgcolor="white", plot_bgcolor="rgba(0,0,0,0)",
                  annotations=annotations, shapes=shapes, showlegend=False)
fig.write_html("out.html", config={"displayModeBar": False},
               post_script="document.body.style.margin='0px';")
